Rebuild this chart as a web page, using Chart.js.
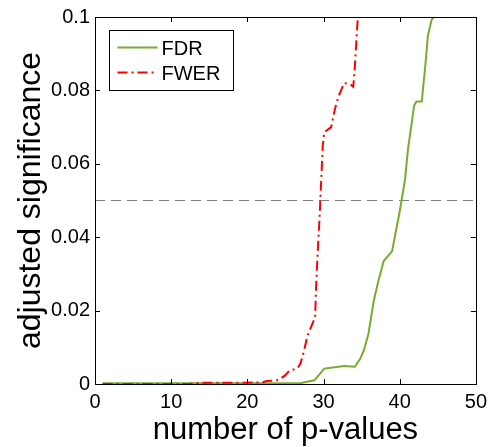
<!DOCTYPE html>
<html>
<head>
<meta charset="utf-8">
<script src="https://cdn.jsdelivr.net/npm/chart.js@4.4.0/dist/chart.umd.min.js"></script>
<style>
  html, body { margin: 0; padding: 0; background: #fff; }
  #wrap { width: 493px; height: 447px; }
</style>
</head>
<body>
<div id="wrap"><canvas id="sig-chart" width="493" height="447"></canvas></div>
<script>
// adjusted significance vs. number of p-values (sorted)
const xTicks = [0, 10, 20, 30, 40, 50];
const yTicks = [0, 0.02, 0.04, 0.06, 0.08, 0.1];
const alphaLevel = 0.05;

const fdrX = [1, 27, 27.5, 28.8, 30.1, 32.7, 34.1, 34.8, 35.3, 35.9, 36.6, 37.2, 37.9, 39.0, 40.0, 40.7, 41.1, 41.6, 41.9, 42.2, 42.9, 43.1, 43.4, 43.7, 44.2, 44.5];
const fdrY = [0.0002, 0.0002, 0.0005, 0.001, 0.0042, 0.0049, 0.0047, 0.0068, 0.0092, 0.0137, 0.0227, 0.0281, 0.0335, 0.0362, 0.047, 0.0557, 0.0642, 0.0714, 0.0759, 0.077, 0.077, 0.0812, 0.0876, 0.0949, 0.0993, 0.1];

const fwerX = [1, 12.5, 13, 22, 22.5, 23.8, 24.3, 25, 25.5, 26.6, 27, 27.4, 27.9, 28.9, 29.0, 29.2, 29.5, 29.7, 29.9, 30.1, 31, 31.5, 32, 32.7, 33.5, 33.9, 34.1, 34.5, 35];
const fwerY = [0, 0, 0.0003, 0.0004, 0.0008, 0.001, 0.0014, 0.0024, 0.0036, 0.0043, 0.0057, 0.0087, 0.0132, 0.0182, 0.0254, 0.0344, 0.0462, 0.0557, 0.065, 0.0686, 0.07, 0.075, 0.0785, 0.082, 0.0817, 0.081, 0.086, 0.1, 0.115];

const FONT = '"Liberation Sans", Arial, Helvetica, sans-serif';
const GREEN = '#77ac30';
const RED   = '#ff0000';

const pts = (xs, ys) => xs.map((x, i) => ({ x, y: ys[i] }));

// box, inward tick marks and the in-axes legend (matlab look)
const axesDecor = {
  id: 'axesDecor',
  afterDatasetsDraw(chart) {
    const { ctx, chartArea: a, scales: { x, y } } = chart;
    const tl = 5;
    ctx.save();
    ctx.strokeStyle = '#000';
    ctx.lineWidth = 1;
    ctx.beginPath();
    xTicks.forEach(v => {
      const px = Math.round(x.getPixelForValue(v)) + 0.5;
      ctx.moveTo(px, a.bottom); ctx.lineTo(px, a.bottom - tl);
      ctx.moveTo(px, a.top);    ctx.lineTo(px, a.top + tl);
    });
    yTicks.forEach(v => {
      const py = Math.round(y.getPixelForValue(v)) + 0.5;
      ctx.moveTo(a.left, py);  ctx.lineTo(a.left + tl, py);
      ctx.moveTo(a.right, py); ctx.lineTo(a.right - tl, py);
    });
    ctx.stroke();
    ctx.strokeRect(Math.round(a.left) + 0.5, Math.round(a.top) + 0.5,
                   Math.round(a.right - a.left), Math.round(a.bottom - a.top));

    // legend
    const lx = Math.round(a.left) + 14.5, ly = Math.round(a.top) + 13.5;
    const lw = 124, lh = 60;
    ctx.fillStyle = '#fff';
    ctx.fillRect(lx, ly, lw, lh);
    ctx.strokeRect(lx, ly, lw, lh);
    ctx.font = '20px ' + FONT;
    ctx.textBaseline = 'middle';
    chart.data.datasets.filter(d => d.inLegend).forEach((d, i) => {
      const ry = ly + 17 + i * 25;
      ctx.strokeStyle = d.borderColor;
      ctx.lineWidth = d.borderWidth;
      ctx.setLineDash(d.borderDash || []);
      ctx.beginPath();
      ctx.moveTo(lx + 8, ry); ctx.lineTo(lx + 48, ry);
      ctx.stroke();
      ctx.setLineDash([]);
      ctx.fillStyle = '#000';
      ctx.fillText(d.label, lx + 52, ry + 2);
    });
    ctx.restore();
  }
};

new Chart(document.getElementById('sig-chart'), {
  type: 'line',
  data: {
    datasets: [
      { label: 'FDR',  data: pts(fdrX, fdrY),  borderColor: GREEN, borderWidth: 2,
        pointRadius: 0, fill: false, tension: 0, order: 1, inLegend: true },
      { label: 'FWER', data: pts(fwerX, fwerY), borderColor: RED, borderWidth: 2,
        borderDash: [10, 4, 2, 4], pointRadius: 0, fill: false, tension: 0, order: 0, inLegend: true },
      { label: 'alpha', data: [{ x: xTicks[0], y: alphaLevel }, { x: xTicks[xTicks.length - 1], y: alphaLevel }],
        borderColor: '#808080', borderWidth: 1, borderDash: [10, 6], pointRadius: 0, fill: false, order: 2 },
    ],
  },
  options: {
    responsive: false, animation: false,
    layout: { padding: { top: 14, right: 13, left: 0, bottom: 0 } },
    plugins: { legend: { display: false }, tooltip: { enabled: false } },
    scales: {
      x: {
        type: 'linear', min: 0, max: 50,
        afterBuildTicks: s => { s.ticks = xTicks.map(v => ({ value: v })); },
        afterFit: s => { s.height = 63; },
        grid: { display: false, drawTicks: false }, border: { display: false },
        ticks: { padding: 6, color: '#000', font: { family: FONT, size: 20 }, maxRotation: 0 },
        title: { display: true, text: 'number of p-values', color: '#000',
                 font: { family: FONT, size: 31 }, padding: { top: 0, bottom: -2 } },
      },
      y: {
        type: 'linear', min: 0, max: 0.1,
        afterBuildTicks: s => { s.ticks = yTicks.map(v => ({ value: v })); },
        afterFit: s => { s.width = 95; },
        grid: { display: false, drawTicks: false }, border: { display: false },
        ticks: { padding: 5, color: '#000', font: { family: FONT, size: 20 },
                 callback: v => String(+v.toFixed(2)) },
        title: { display: true, text: 'adjusted significance', color: '#000',
                 font: { family: FONT, size: 32 }, padding: { top: 12, bottom: 0 } },
      },
    },
  },
  plugins: [axesDecor],
});
</script>
</body>
</html>
